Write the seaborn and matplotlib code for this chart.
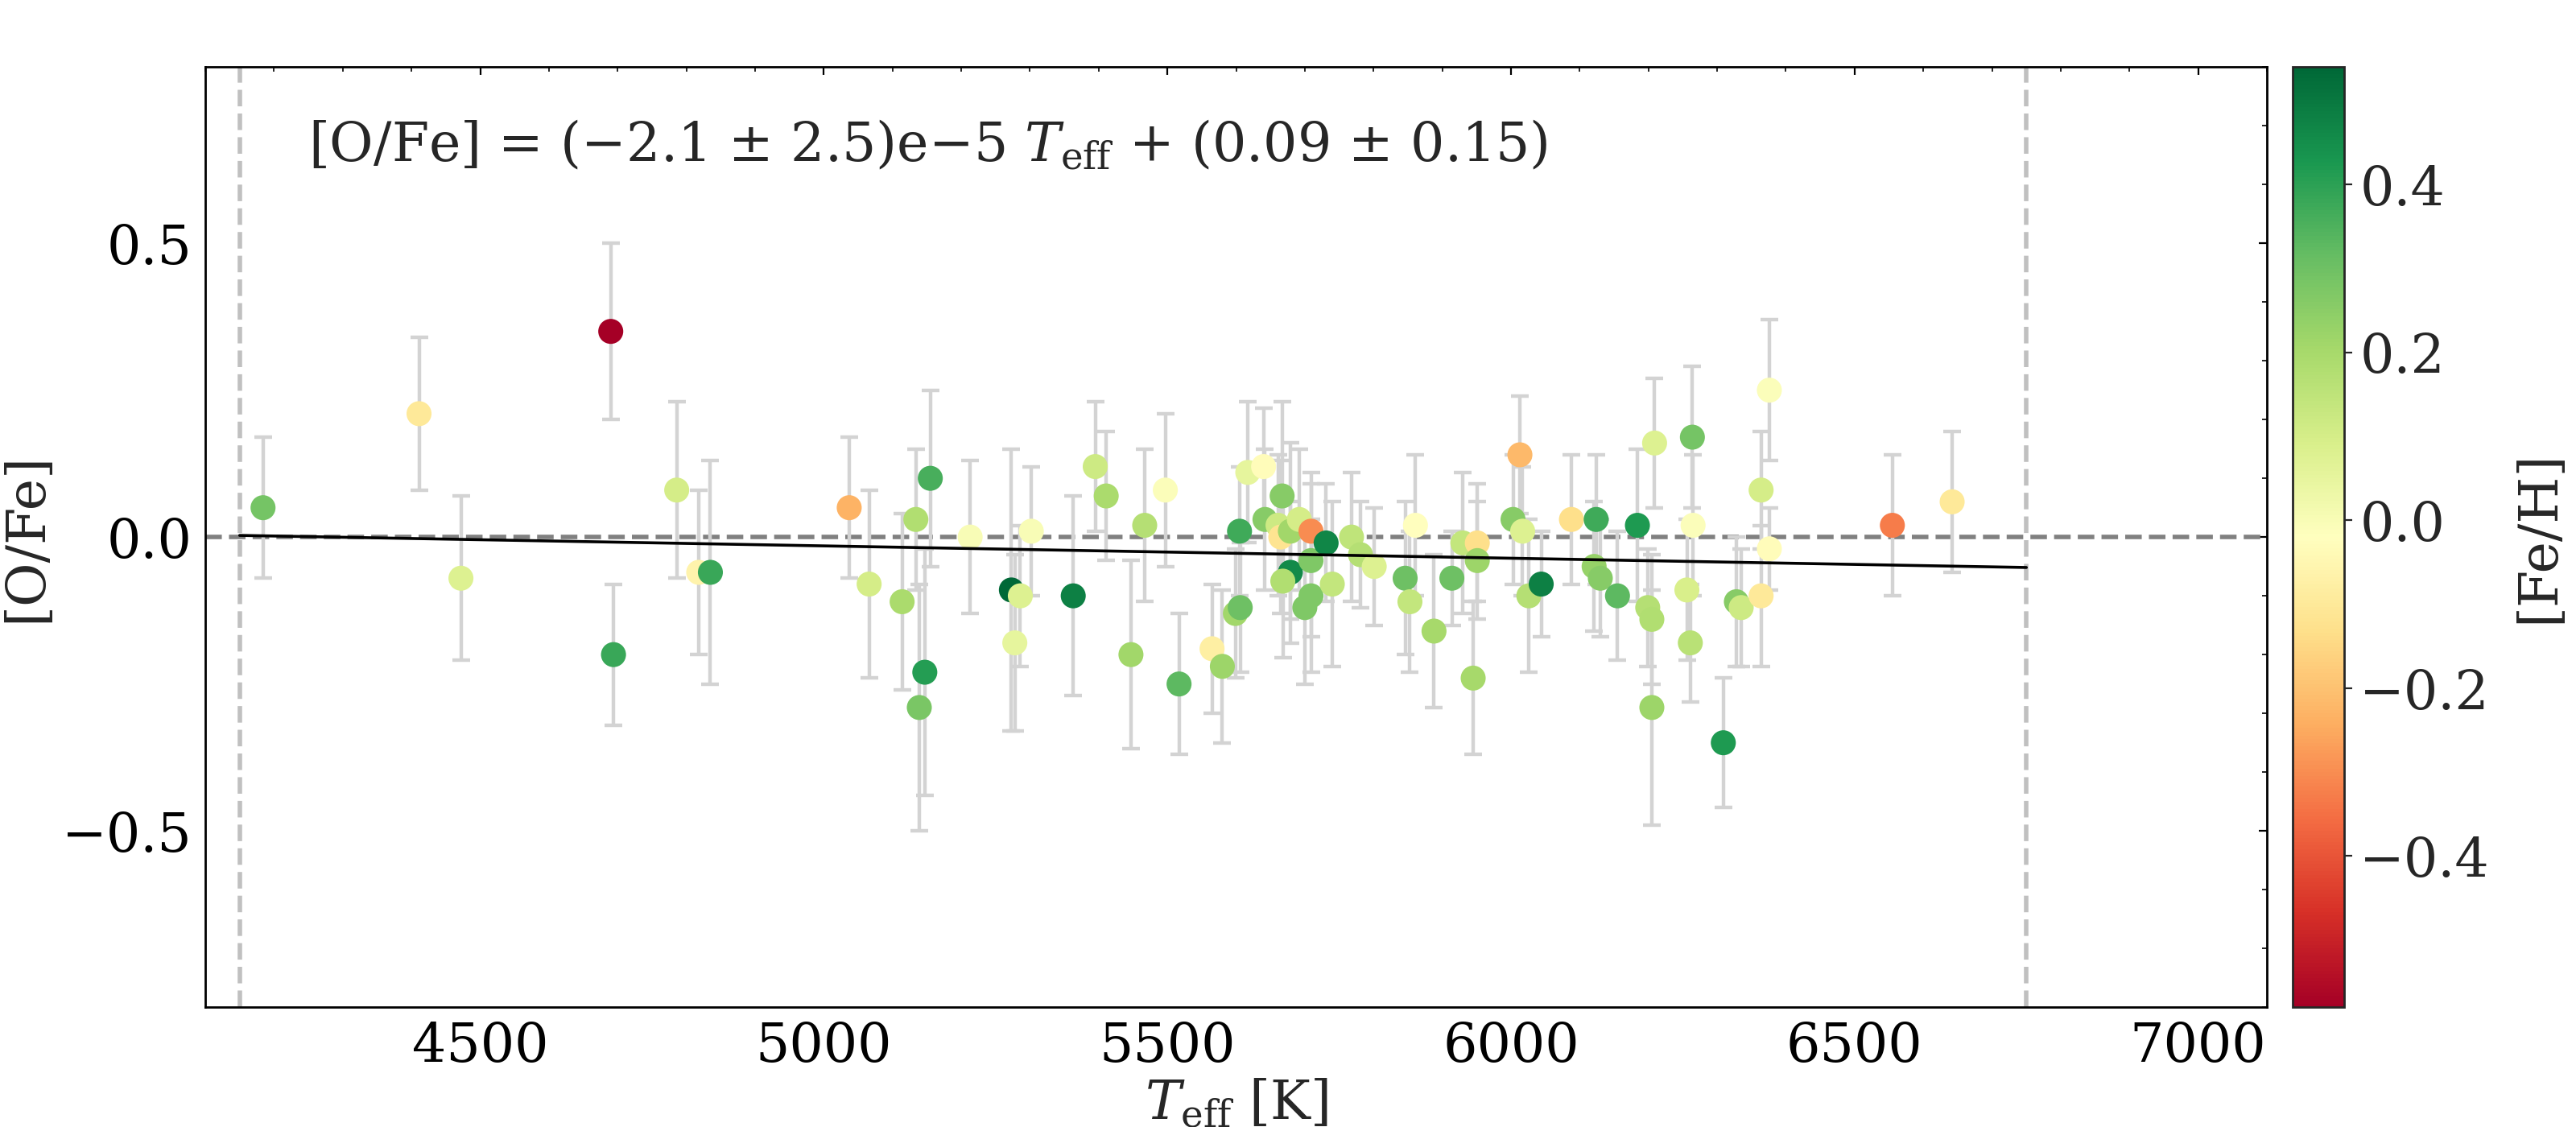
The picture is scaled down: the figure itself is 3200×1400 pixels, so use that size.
import numpy as np
import pandas as pd
import seaborn as sns
import matplotlib.pyplot as plt
import matplotlib as mpl
from matplotlib.ticker import MultipleLocator

# ------------------------------
# Data
# ------------------------------
teff = [4184, 4411, 4472, 4690, 4694, 4786, 4818, 4835,
        5037, 5066, 5114, 5134, 5155, 5139, 5147, 5213, 5273, 5286,
        5278, 5302, 5363, 5395, 5411, 5447, 5467, 5497, 5517, 5565,
        5580, 5599, 5606, 5605, 5617,
        5640, 5642, 5667, 5661, 5665, 5679, 5692, 5679, 5668, 5709,
        5709, 5709, 5700, 5731, 5740, 5768, 5781, 5801, 5846, 5853,
        5861, 5888, 5914, 5930, 5951, 5951, 5945, 6013, 6003, 6017,
        6026, 6044, 6088, 6124, 6121, 6130, 6155, 6184, 6199, 6205,
        6205, 6209, 6264, 6265, 6256, 6261, 6309,
        6328, 6335, 6364, 6364, 6376, 6376, 6555, 6642]
ofe = [0.05, 0.21, -0.07, 0.35, -0.20, 0.08, -0.06, -0.06,
       0.05, -0.08, -0.11, 0.03, 0.10, -0.29, -0.23, 0.00, -0.09, -0.10,
       -0.18, 0.01, -0.10, 0.12, 0.07, -0.20, 0.02, 0.08, -0.25, -0.19,
       -0.22, -0.13, -0.12, 0.01, 0.11,
       0.12, 0.03, 0.07, 0.02, 0.00, 0.01, 0.03, -0.06, -0.075, 0.01,
       -0.04, -0.10, -0.12, -0.01, -0.08, 0.00, -0.03, -0.05, -0.07, -0.11,
       0.02, -0.16, -0.07, -0.01, -0.01, -0.04, -0.24, 0.14, 0.03, 0.01,
       -0.10, -0.08, 0.03, 0.03, -0.05, -0.07, -0.10, 0.02, -0.12, -0.14,
       -0.29, 0.16, 0.17, 0.02, -0.09, -0.18, -0.35,
       -0.11, -0.12, 0.08, -0.10, 0.25, -0.02, 0.02, 0.06]
ofe_err = [0.12, 0.13, 0.14, 0.15, 0.12, 0.15, 0.14, 0.19,
           0.12, 0.16, 0.15, 0.12, 0.15, 0.21, 0.21, 0.13, 0.24, 0.12,
           0.15, 0.11, 0.17, 0.11, 0.11, 0.16, 0.13, 0.13, 0.12, 0.11,
           0.13, 0.11, 0.11, 0.11, 0.12,
           0.10, 0.12, 0.16, 0.12, 0.13, 0.15, 0.12, 0.12, 0.13, 0.10,
           0.13, 0.13, 0.13, 0.10, 0.14, 0.11, 0.09, 0.10, 0.13, 0.12,
           0.12, 0.13, 0.08, 0.12, 0.10, 0.10, 0.13, 0.10, 0.11, 0.11,
           0.13, 0.09, 0.11, 0.11, 0.11, 0.10, 0.11, 0.13, 0.10, 0.11,
           0.20, 0.11, 0.12, 0.12, 0.12, 0.10, 0.11,
           0.11, 0.10, 0.10, 0.12, 0.12, 0.07, 0.12, 0.12]
feh = [0.29, -0.10, 0.08, -0.58, 0.38, 0.10, -0.06, 0.38,
       -0.23, 0.10, 0.19, 0.18, 0.36, 0.28, 0.41, 0.00, 0.54, 0.08,
       0.05, 0.00, 0.48, 0.12, 0.19, 0.21, 0.17, -0.01, 0.33, -0.08,
       0.22, 0.21, 0.30, 0.37, 0.05,
       -0.03, 0.26, 0.26, 0.12, -0.12, 0.21, 0.10, 0.46, 0.18, -0.30,
       0.27, 0.27, 0.27, 0.47, 0.14, 0.15, 0.17, 0.08, 0.30, 0.14,
       -0.02, 0.20, 0.30, 0.14, -0.13, 0.22, 0.20, -0.22, 0.26, 0.08,
       0.17, 0.48, -0.13, 0.37, 0.23, 0.26, 0.33, 0.42, 0.17, 0.18,
       0.22, 0.08, 0.29, -0.01, 0.09, 0.16, 0.42,
       0.26, 0.12, 0.10, -0.10, -0.01, -0.03, -0.33, -0.10]

# linear fit quoted on the figure
fit_slope = -2.1e-5
fit_intercept = 0.09
fit_range = [4150, 6750]

df = pd.DataFrame({'Teff': teff, 'OFe': ofe, 'err': ofe_err, 'FeH': feh})

# ------------------------------
# Style
# ------------------------------
sns.set_style('white')
plt.rcParams['font.family'] = ['DejaVu Serif']
plt.rcParams['mathtext.fontset'] = 'dejavuserif'
FS = 24

fig = plt.figure(figsize=(16, 7), dpi=200)
ax = fig.add_axes([0.0797, 0.1063, 0.8003, 0.8343])
cax = fig.add_axes([0.89, 0.1063, 0.02, 0.8343])

norm = mpl.colors.Normalize(vmin=df['FeH'].min(), vmax=df['FeH'].max())
cmap = plt.get_cmap('RdYlGn')

# reference lines
ax.axhline(0, color='gray', ls='--', lw=2, zorder=1)
for xv in fit_range:
    ax.axvline(xv, color='silver', ls='--', lw=2, zorder=1)

# error bars, then coloured points
ax.errorbar(df['Teff'], df['OFe'], yerr=df['err'], fmt='none',
            ecolor='lightgray', elinewidth=1.6, capsize=4, capthick=1.6, zorder=2)
sns.scatterplot(data=df, x='Teff', y='OFe', hue='FeH', palette=cmap, hue_norm=norm,
                s=125, edgecolor='none', legend=False, ax=ax, zorder=3)

# fit line
fx = np.array(fit_range)
ax.plot(fx, fit_slope * fx + fit_intercept, color='black', lw=1.3, zorder=4)

ax.text(0.05, 0.917,
        r'[O/Fe] = ($-$2.1 $\pm$ 2.5)e$-$5 $T_{\rm eff}$ + (0.09 $\pm$ 0.15)',
        transform=ax.transAxes, fontsize=FS, va='center', ha='left')

ax.set_xlim(4100, 7100)
ax.set_ylim(-0.8, 0.8)
ax.xaxis.set_major_locator(MultipleLocator(500))
ax.xaxis.set_minor_locator(MultipleLocator(100))
ax.yaxis.set_major_locator(MultipleLocator(0.5))
ax.yaxis.set_minor_locator(MultipleLocator(0.1))
ax.tick_params(which='both', direction='in', top=True, right=True, colors='black')
ax.tick_params(which='major', labelsize=FS, pad=6)
for sp in ax.spines.values():
    sp.set_color('black')
    sp.set_linewidth(1.0)

ax.set_xlabel(r'$T_{\rm eff}$ [K]', fontsize=FS, labelpad=2)
ax.set_ylabel('[O/Fe]', fontsize=FS, labelpad=4)

# colorbar
sm = mpl.cm.ScalarMappable(norm=norm, cmap=cmap)
cb = fig.colorbar(sm, cax=cax)
cb.set_ticks([-0.4, -0.2, 0.0, 0.2, 0.4])
cb.ax.tick_params(labelsize=FS)
cb.set_label('[Fe/H]', fontsize=FS, labelpad=10)
cb.outline.set_linewidth(1.0)

fig.savefig('out.png', dpi=200)
